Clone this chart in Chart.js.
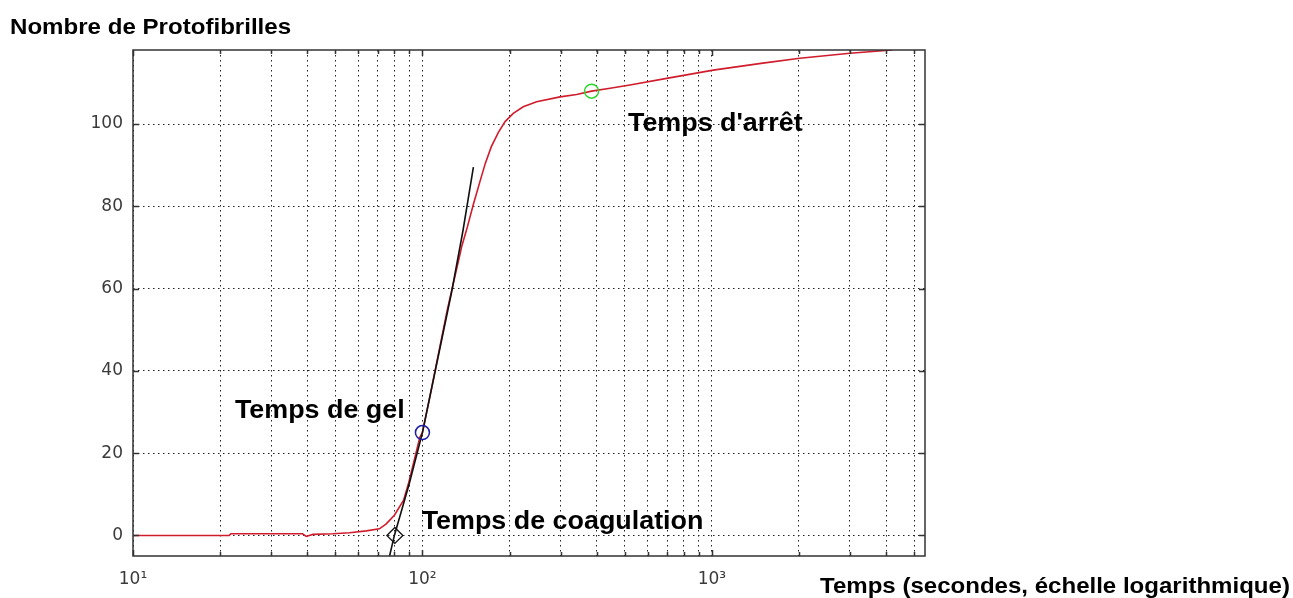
<!DOCTYPE html>
<html lang="fr">
<head>
<meta charset="utf-8">
<title>Nombre de Protofibrilles</title>
<script src="https://cdn.jsdelivr.net/npm/chart.js"></script>
<style>
  html, body { margin: 0; padding: 0; background: #fff; }
  #wrap { width: 1293px; height: 598px; position: relative; }
</style>
</head>
<body>
<div id="wrap"><canvas id="chart" width="1293" height="598"></canvas></div>
<script>
// courbe rouge : nombre de protofibrilles selon le temps (s)
const redTime = [10, 21.5, 21.8, 38.5, 39.7, 41.8, 49, 56, 64, 71, 75, 80, 86, 89.5, 93, 98, 100,
  107, 115, 122, 130, 137, 143, 150, 158, 165, 173, 183, 193, 206, 223, 248, 299, 341, 384,
  445, 521, 698, 1011, 1500, 2013, 2999, 4200];
const redCount = [0, 0, 0.4, 0.4, -0.25, 0.25, 0.4, 0.65, 1.1, 1.6, 2.8, 4.9, 8.5, 12.6, 17.4, 23.9, 25,
  35, 46, 55, 63.5, 70.5, 75, 80.5, 86, 90.5, 94.5, 98, 100.6, 102.6, 104.2, 105.4, 106.6, 107.2, 108,
  108.7, 109.5, 111.1, 113.1, 114.8, 116, 117.2, 118];

// tangente noire (point de gel)
const tangentTime = [77, 80, 90, 100, 113, 126, 138, 150];
const tangentCount = [-5, 0, 12.5, 25, 43, 59, 74, 89.5];

// points remarquables
const coagPoint = [80.3, 0];
const gelPoint = [100, 25];
const stopPoint = [384, 108];

// graduations et limites
const xTicks = [10, 20, 30, 40, 50, 60, 70, 80, 90, 100, 200, 300, 400, 500, 600, 700, 800, 900,
  1000, 2000, 3000, 4000, 5000];
const xLabels = { 10: '10\u00b9', 100: '10\u00b2', 1000: '10\u00b3' };
const yTicks = [0, 20, 40, 60, 80, 100];
const xLimits = [10, 5450];
const yLimits = [-5, 118];

// textes d'annotation (ancrés en coordonnées de données, coin bas gauche)
const notes = [
  { text: "Temps d'arrêt", t: 513, y: 98.3 },
  { text: 'Temps de gel', t: 22.5, y: 28.5 },
  { text: 'Temps de coagulation', t: 99.4, y: 1.6 },
];

const toPoints = (xs, ys) => xs.map((x, i) => ({ x: x, y: ys[i] }));

// cadre, graduations intérieures et textes
const framePlugin = {
  id: 'frame',
  afterDraw(chart) {
    const ctx = chart.ctx;
    const area = chart.chartArea;
    const sx = chart.scales.x;
    const sy = chart.scales.y;
    ctx.save();
    ctx.strokeStyle = '#333';
    ctx.lineWidth = 1.5;
    ctx.beginPath();
    xTicks.forEach(v => {
      const px = Math.round(sx.getPixelForValue(v)) + 0.5;
      const len = xLabels[v] ? 6 : 4;
      ctx.moveTo(px, area.bottom);
      ctx.lineTo(px, area.bottom - len);
      ctx.moveTo(px, area.top);
      ctx.lineTo(px, area.top + len);
    });
    yTicks.forEach(v => {
      const py = Math.round(sy.getPixelForValue(v)) + 0.5;
      ctx.moveTo(area.left, py);
      ctx.lineTo(area.left + 6, py);
      ctx.moveTo(area.right, py);
      ctx.lineTo(area.right - 6, py);
    });
    ctx.stroke();
    ctx.strokeRect(area.left, area.top, area.right - area.left, area.bottom - area.top);

    const drawText = (text, x, y, size, stretch) => {
      ctx.save();
      ctx.translate(x, y);
      ctx.scale(stretch, 1);
      ctx.font = 'bold ' + size + 'px "Liberation Sans", Arial, sans-serif';
      ctx.fillStyle = '#000';
      ctx.textBaseline = 'alphabetic';
      ctx.textAlign = 'left';
      ctx.fillText(text, 0, 0);
      ctx.restore();
    };
    notes.forEach(n => {
      drawText(n.text, sx.getPixelForValue(n.t), sy.getPixelForValue(n.y), 25, 1.075);
    });
    drawText('Nombre de Protofibrilles', 10, 34, 22, 1.095);
    drawText('Temps (secondes, échelle logarithmique)', 820, 593, 22, 1.093);
    ctx.restore();
  },
};

const gridStyle = { color: '#222', lineWidth: 1, drawTicks: false };
const dotted = { display: false, dash: [1.5, 3.5] };

new Chart(document.getElementById('chart'), {
  type: 'line',
  data: {
    datasets: [
      {
        label: "Temps d'arrêt",
        data: [{ x: stopPoint[0], y: stopPoint[1] }],
        showLine: false,
        pointStyle: 'circle',
        pointRadius: 7,
        pointBorderWidth: 1.5,
        pointBorderColor: '#2bd62b',
        pointBackgroundColor: 'rgba(0,0,0,0)',
      },
      {
        label: 'Temps de gel',
        data: [{ x: gelPoint[0], y: gelPoint[1] }],
        showLine: false,
        pointStyle: 'circle',
        pointRadius: 7,
        pointBorderWidth: 1.5,
        pointBorderColor: '#1c1ca8',
        pointBackgroundColor: 'rgba(0,0,0,0)',
      },
      {
        label: 'Temps de coagulation',
        data: [{ x: coagPoint[0], y: coagPoint[1] }],
        showLine: false,
        pointStyle: 'rectRot',
        pointRadius: 8,
        pointBorderWidth: 1.3,
        pointBorderColor: '#111',
        pointBackgroundColor: 'rgba(0,0,0,0)',
      },
      {
        label: 'Tangente',
        data: toPoints(tangentTime, tangentCount),
        borderColor: '#111',
        borderWidth: 1.6,
        pointRadius: 0,
        tension: 0,
      },
      {
        label: 'Protofibrilles',
        data: toPoints(redTime, redCount),
        borderColor: '#d01c2c',
        borderWidth: 1.6,
        pointRadius: 0,
        tension: 0,
      },
    ],
  },
  options: {
    responsive: false,
    animation: false,
    events: [],
    layout: { padding: { top: 50, right: 368, bottom: 0, left: 0 } },
    plugins: {
      legend: { display: false },
      tooltip: { enabled: false },
    },
    scales: {
      x: {
        type: 'logarithmic',
        min: xLimits[0],
        max: xLimits[1],
        grid: gridStyle,
        border: dotted,
        afterBuildTicks: s => { s.ticks = xTicks.map(v => ({ value: v })); },
        afterFit: s => { s.height = 42; },
        ticks: {
          autoSkip: false,
          maxRotation: 0,
          padding: 13,
          color: '#3a3a3a',
          font: { family: '"DejaVu Sans", sans-serif', size: 17 },
          callback: v => xLabels[v] || '',
        },
      },
      y: {
        min: yLimits[0],
        max: yLimits[1],
        grid: gridStyle,
        border: dotted,
        afterBuildTicks: s => { s.ticks = yTicks.map(v => ({ value: v })); },
        afterFit: s => { s.width = 133; },
        ticks: {
          padding: 10,
          color: '#3a3a3a',
          font: { family: '"DejaVu Sans", sans-serif', size: 17 },
        },
      },
    },
  },
  plugins: [framePlugin],
});
</script>
</body>
</html>
